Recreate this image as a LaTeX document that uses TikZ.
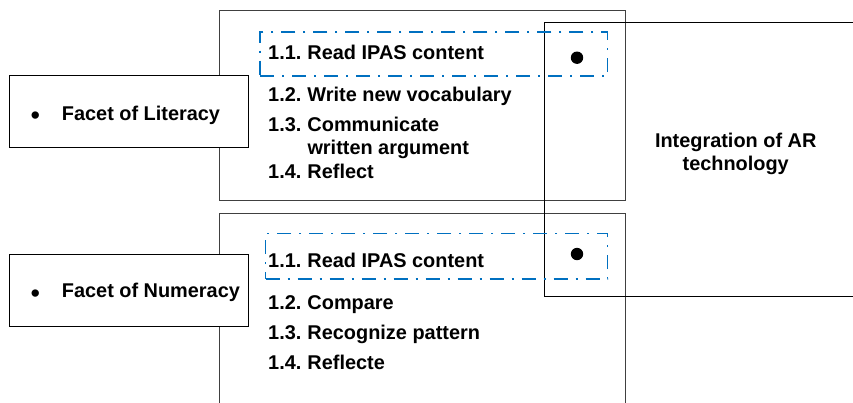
\documentclass[tikz,border=0pt]{standalone}
\usepackage{fontspec}
\setmainfont{Liberation Sans}
\definecolor{dashblue}{HTML}{0070C0}
\definecolor{framegray}{HTML}{404040}
\newcommand{\numlbl}[1]{\makebox[39.3pt][l]{#1}}
\begin{document}
\begin{tikzpicture}[x=1pt,y=-1pt,
  bigframe/.style={draw=framegray, line width=0.9pt, inner sep=0pt},
  integframe/.style={draw=black, line width=0.9pt, inner sep=0pt},
  facetbox/.style={draw=black, fill=white, line width=0.9pt, inner sep=0pt, minimum width=239.4pt, minimum height=71.6pt},
  blueframe/.style={draw=dashblue, line width=1.5pt, inner sep=0pt, dash pattern=on 14pt off 8pt on 2pt off 8pt},
  item/.style={anchor=base west, inner sep=0pt, font=\bfseries\fontsize{19.9}{23}\selectfont},
  dotmark/.style={circle, fill=black, inner sep=0pt, minimum size=12.4pt},
  bul/.style={anchor=base, inner sep=0pt, font=\fontsize{27}{30}\selectfont}]
\useasboundingbox (0,0) rectangle (853,402);
\clip (0,0) rectangle (853,402);
% big frames
\node[bigframe, minimum width=406pt, minimum height=189.8pt] (litframe) at (422,105.6) {};
\node[bigframe, minimum width=406pt, minimum height=207pt] (numframe) at (422,316.5) {};
% integration box
\node[integframe, minimum width=325.7pt, minimum height=273.3pt] (integ) at (707.2,159.35) {};
\node[anchor=center, inner sep=0pt, align=center, font=\bfseries\fontsize{19.9}{23.4}\selectfont] (integtext) at (735.7,154) {Integration of AR\\technology};
% blue dash-dot boxes
\node[blueframe, minimum width=347.7pt, minimum height=44pt] (blueA) at (433.85,54) {};
\node[blueframe, minimum width=342pt, minimum height=45.3pt] (blueB) at (436.7,256.35) {};
% dots
\node[dotmark] (dotA) at (577,57.7) {};
\node[dotmark] (dotB) at (577,254) {};
% literacy items
\node[item] (l1) at (268,59.3) {\numlbl{1.1.}Read IPAS content};
\node[item] (l2) at (268,101.7) {\numlbl{1.2.}Write new vocabulary};
\node[item] (l3) at (268,131.7) {\numlbl{1.3.}Communicate};
\node[item] (l3b) at (307.3,154) {written argument};
\node[item] (l4) at (268,178) {\numlbl{1.4.}Reflect};
% numeracy items
\node[item] (n1) at (268,267.7) {\numlbl{1.1.}Read IPAS content};
\node[item] (n2) at (268,309.3) {\numlbl{1.2.}Compare};
\node[item] (n3) at (268,339) {\numlbl{1.3.}Recognize pattern};
\node[item] (n4) at (268,369.3) {\numlbl{1.4.}Reflecte};
% facet boxes
\node[facetbox] (litbox) at (129,111.5) {};
\node[bul] (litbul) at (35.3,124.5) {•};
\node[item] (littext) at (61.7,120) {Facet of Literacy};
\node[facetbox] (numbox) at (129,290.2) {};
\node[bul] (numbul) at (35.3,302.5) {•};
\node[item] (numtext) at (61.7,297.3) {Facet of Numeracy};
\end{tikzpicture}
\end{document}
